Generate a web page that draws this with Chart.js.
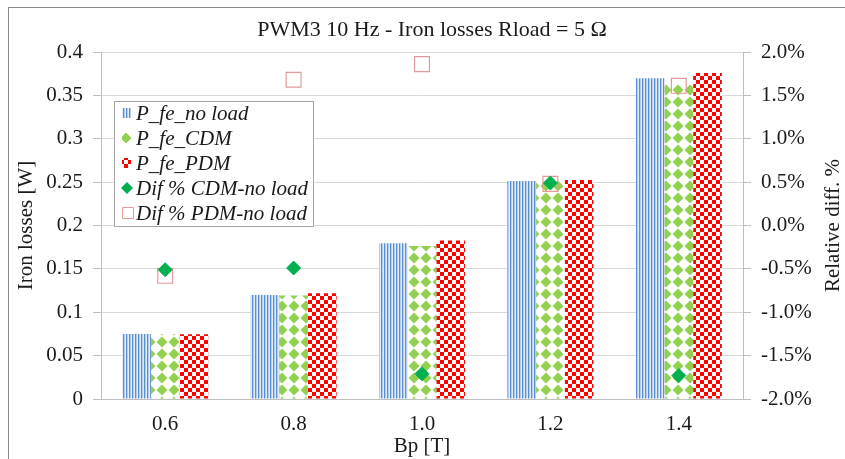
<!DOCTYPE html>
<html>
<head>
<meta charset="utf-8">
<script src="https://cdn.jsdelivr.net/npm/chart.js@4"></script>
<style>
  html, body { margin: 0; padding: 0; background: #fff; }
</style>
</head>
<body>
<canvas id="ironCanvas" width="845" height="459"></canvas>
<script>
// Bp [T] categories
const inductions = ['0.6', '0.8', '1.0', '1.2', '1.4'];
// iron losses [W]
const pNoLoad = [0.0749, 0.1199, 0.1795, 0.2513, 0.3697];
const pCdm = [0.0745, 0.1193, 0.1764, 0.2525, 0.3633];
const pPdm = [0.0745, 0.1219, 0.1828, 0.2525, 0.3757];
// relative difference to no load [%]
const difCdm = [-0.51, -0.49, -1.71, 0.49, -1.73];
const difPdm = [-0.58, 1.68, 1.86, 0.48, 1.61];
// axis labels
const lossTicks = ['0', '0.05', '0.1', '0.15', '0.2', '0.25', '0.3', '0.35', '0.4'];
const pctTicks = ['-2.0%', '-1.5%', '-1.0%', '-0.5%', '0.0%', '0.5%', '1.0%', '1.5%', '2.0%'];

const SERIF = 'Liberation Serif';
const INK = '#1a1a1a';

function makePattern(w, h, paint) {
  const c = document.createElement('canvas');
  c.width = w; c.height = h;
  paint(c.getContext('2d'), w, h);
  return c.getContext('2d').createPattern(c, 'repeat');
}

// vertical blue stripes
const stripes = makePattern(3, 4, (g, w, h) => {
  g.fillStyle = '#e2ecf8'; g.fillRect(0, 0, w, h);
  g.fillStyle = '#5b8fd0'; g.fillRect(0, 0, 1, h);
  g.fillStyle = '#b3cdec'; g.fillRect(1, 0, 1, h);
});
// green diamonds on white
const diamonds = makePattern(12, 12, (g, w, h) => {
  g.fillStyle = '#ffffff'; g.fillRect(0, 0, w, h);
  g.fillStyle = '#92d050';
  g.beginPath();
  g.moveTo(6, 0.5); g.lineTo(11.5, 6); g.lineTo(6, 11.5); g.lineTo(0.5, 6);
  g.closePath(); g.fill();
});
// red checkerboard
const checker = makePattern(8, 8, (g, w, h) => {
  g.fillStyle = '#ffffff'; g.fillRect(0, 0, w, h);
  g.fillStyle = '#ff0000';
  g.fillRect(0, 0, 4, 4); g.fillRect(4, 4, 4, 4);
});

// frame, title and right axis title
const decorations = {
  id: 'decorations',
  beforeDraw(chart) {
    const ctx = chart.ctx;
    ctx.save();
    ctx.fillStyle = '#fff';
    ctx.fillRect(0, 0, chart.width, chart.height);
    ctx.strokeStyle = '#8c8c8c';
    ctx.lineWidth = 1;
    ctx.strokeRect(8.5, 7.5, chart.width + 20, chart.height + 20);
    ctx.restore();
  },
  afterDraw(chart) {
    const ctx = chart.ctx;
    const area = chart.chartArea;
    ctx.save();
    ctx.fillStyle = INK;
    ctx.textAlign = 'center';
    ctx.textBaseline = 'middle';
    ctx.font = '22px "' + SERIF + '"';
    ctx.fillText('PWM3 10 Hz - Iron losses Rload = 5 Ω', 432, 30);
    ctx.font = '21px "' + SERIF + '"';
    ctx.translate(833, (area.top + area.bottom) / 2);
    ctx.rotate(-Math.PI / 2);
    ctx.fillText('Relative diff. %', 0, 0);
    ctx.restore();
  }
};

// boxed legend inside the plot
const boxLegend = {
  id: 'boxLegend',
  afterDraw(chart) {
    const ctx = chart.ctx;
    const x0 = 114, y0 = 101, w = 199, h = 125, row = 25;
    ctx.save();
    ctx.fillStyle = '#fff';
    ctx.fillRect(x0, y0, w, h);
    ctx.strokeStyle = '#a6a6a6';
    ctx.lineWidth = 1;
    ctx.strokeRect(x0 + 0.5, y0 + 0.5, w, h);
    ctx.font = 'italic 21px "' + SERIF + '"';
    ctx.textBaseline = 'middle';
    ctx.textAlign = 'left';
    chart.data.datasets.forEach((ds, i) => {
      const cy = y0 + 12 + i * row;
      if (ds.type === 'line') {
        ctx.beginPath();
        if (ds.pointStyle === 'rectRot') {
          ctx.moveTo(127, cy - 6); ctx.lineTo(133, cy); ctx.lineTo(127, cy + 6); ctx.lineTo(121, cy);
          ctx.closePath();
          ctx.fillStyle = ds.backgroundColor; ctx.fill();
        } else {
          ctx.rect(122.5, cy - 5.5, 11, 11);
          ctx.strokeStyle = ds.borderColor; ctx.stroke();
        }
      } else {
        ctx.fillStyle = ds.backgroundColor;
        ctx.fillRect(122, cy - 5, 9, 10);
      }
      ctx.fillStyle = INK;
      ctx.fillText(ds.label, 136, cy + 1);
    });
    ctx.restore();
  }
};

const font = { family: SERIF, size: 21 };

new Chart(document.getElementById('ironCanvas'), {
  type: 'bar',
  data: {
    labels: inductions,
    datasets: [
      { label: 'P_fe_no load', data: pNoLoad, backgroundColor: stripes, yAxisID: 'y', order: 1 },
      { label: 'P_fe_CDM', data: pCdm, backgroundColor: diamonds, yAxisID: 'y', order: 1 },
      { label: 'P_fe_PDM', data: pPdm, backgroundColor: checker, yAxisID: 'y', order: 1 },
      {
        type: 'line', label: 'Dif % CDM-no load', data: difCdm, yAxisID: 'y1', order: 0,
        showLine: false, pointStyle: 'rectRot', pointRadius: 7,
        backgroundColor: '#00b050', borderColor: '#00b050', borderWidth: 1
      },
      {
        type: 'line', label: 'Dif % PDM-no load', data: difPdm, yAxisID: 'y1', order: 0,
        showLine: false, pointStyle: 'rect', pointRadius: 10.5,
        backgroundColor: 'rgba(255,255,255,0)', borderColor: '#e39a9a', borderWidth: 1.2
      }
    ]
  },
  options: {
    responsive: false,
    animation: false,
    events: [],
    categoryPercentage: 0.67,
    barPercentage: 1.0,
    layout: { padding: { top: 52, left: 0, right: 0, bottom: 0 } },
    plugins: {
      legend: { display: false },
      title: { display: false },
      tooltip: { enabled: false }
    },
    scales: {
      x: {
        grid: { display: false, drawTicks: false },
        border: { display: true, color: '#bfbfbf' },
        ticks: { font: font, color: INK, padding: 13 },
        title: { display: true, text: 'Bp [T]', font: font, color: INK, padding: { top: 0, bottom: 0 } },
        afterFit: s => { s.height = 60; }
      },
      y: {
        position: 'left',
        min: 0, max: 0.4,
        ticks: { stepSize: 0.05, padding: 10, font: font, color: INK, callback: (v, i) => lossTicks[i] },
        grid: { color: '#d9d9d9', tickLength: 8, tickColor: '#bfbfbf' },
        border: { color: '#bfbfbf' },
        title: { display: true, text: 'Iron losses [W]', font: font, color: INK, padding: { top: 14, bottom: 0 } },
        afterFit: s => { s.width = 101; }
      },
      y1: {
        position: 'right',
        min: -2, max: 2,
        ticks: { stepSize: 0.5, padding: 10, font: font, color: INK, callback: (v, i) => pctTicks[i] },
        grid: { drawOnChartArea: false, tickLength: 8, color: '#bfbfbf' },
        border: { color: '#bfbfbf' },
        afterFit: s => { s.width = 102; }
      }
    }
  },
  plugins: [decorations, boxLegend]
});
</script>
</body>
</html>
